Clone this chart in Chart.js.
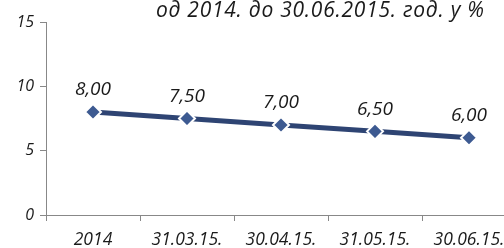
<!DOCTYPE html>
<html><head><meta charset="utf-8">
<script src="https://cdn.jsdelivr.net/npm/chart.js@4/dist/chart.umd.min.js"></script>
<style>
html,body{margin:0;padding:0;background:#fff;overflow:hidden;width:504px;height:248px;}
#wrap{position:relative;width:504px;height:248px;overflow:hidden;}
#title{position:absolute;left:156px;top:-5px;font-family:"Open Sans",sans-serif;font-style:italic;font-size:21px;letter-spacing:0.75px;color:#1a1a1a;white-space:nowrap;}
canvas{position:absolute;left:0;top:0;}
</style></head><body>
<div id="wrap">
<canvas id="c" width="530" height="248"></canvas>
<div id="title">од 2014. до 30.06.2015. год. у %</div>
</div>
<script>
const categories = ["2014", "31.03.15.", "30.04.15.", "31.05.15.", "30.06.15."];
const values = [8.00, 7.50, 7.00, 6.50, 6.00];
const yTicks = [0, 5, 10, 15];

const labelPlugin = {
  id: 'valueLabels',
  afterDatasetsDraw(chart) {
    const ctx = chart.ctx;
    const meta = chart.getDatasetMeta(0);
    ctx.save();
    ctx.font = 'italic 19px "Open Sans", sans-serif';
    ctx.fillStyle = '#1a1a1a';
    ctx.textAlign = 'center';
    ctx.textBaseline = 'middle';
    meta.data.forEach((pt, i) => {
      ctx.fillText(values[i].toFixed(2).replace('.', ','), pt.x, pt.y - 22);
    });
    ctx.restore();
  }
};

new Chart(document.getElementById('c'), {
  type: 'line',
  data: {
    labels: categories,
    datasets: [{
      data: values,
      borderColor: '#2e4473',
      borderWidth: 5,
      pointStyle: 'rectRot',
      pointRadius: 8,
      pointBackgroundColor: '#3d5a91',
      pointBorderColor: '#ffffff',
      pointBorderWidth: 2,
      tension: 0
    }]
  },
  options: {
    responsive: false,
    animation: false,
    devicePixelRatio: 1,
    layout: { padding: { left: 0, right: 14, top: 22, bottom: 0 } },
    plugins: { legend: { display: false }, tooltip: { enabled: false }, title: { display: false } },
    scales: {
      x: {
        type: 'category',
        offset: true,
        grid: { offset: true, drawOnChartArea: false, drawTicks: true, tickLength: 6, color: '#888' },
        border: { color: '#888', width: 1 },
        ticks: { color: '#1a1a1a', padding: 9, maxRotation: 0, autoSkip: false,
                 font: { family: '"Open Sans", sans-serif', style: 'italic', size: 17.5 } },
        afterFit(s) { s.height = 33; }
      },
      y: {
        min: 0, max: 15,
        afterBuildTicks(s) { s.ticks = yTicks.map(v => ({ value: v })); },
        grid: { drawOnChartArea: false, drawTicks: true, tickLength: 6, color: '#888' },
        border: { color: '#888', width: 1 },
        ticks: { color: '#1a1a1a', padding: 6,
                 font: { family: '"Open Sans", sans-serif', style: 'italic', size: 16 } },
        afterFit(s) { s.width = 46; }
      }
    }
  },
  plugins: [labelPlugin]
});
</script>
</body></html>
